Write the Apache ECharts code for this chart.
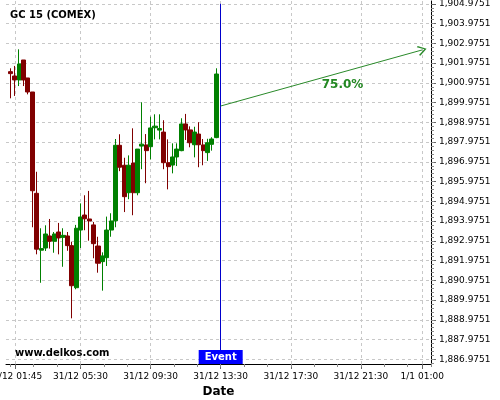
<!DOCTYPE html>
<html>
<head>
<meta charset="utf-8">
<script src="https://cdn.jsdelivr.net/npm/echarts@6/dist/echarts.min.js"></script>
<style>html,body{margin:0;padding:0;background:#fff}#c{width:500px;height:400px}</style>
</head>
<body>
<div id="c"></div>
<script>
// ---- data ----
const times = ['01:30','01:45','02:00','02:15','02:30','02:45','03:00','03:15','03:30','03:45',
  '04:00','04:15','04:30','04:45','05:00','05:15','05:30','05:45','06:00','06:15',
  '06:30','06:45','07:00','07:15','07:30','07:45','08:00','08:15','08:30','08:45',
  '09:00','09:15','09:30','09:45','10:00','10:15','10:30','10:45','11:00','11:15',
  '11:30','11:45','12:00','12:15','12:30','12:45','13:00','13:15'];
const opens = [1901.54,1901.32,1901.12,1902.13,1901.22,1900.51,1895.38,1892.50,1892.61,1893.22,
  1892.95,1893.42,1893.15,1893.22,1892.73,1890.60,1893.52,1894.28,1894.08,1893.78,
  1892.71,1891.92,1892.12,1893.52,1893.99,1897.81,1896.80,1895.41,1896.91,1895.41,
  1897.77,1897.83,1897.74,1898.70,1898.58,1898.48,1896.93,1896.81,1897.22,1897.54,
  1898.89,1898.59,1897.84,1898.38,1897.83,1897.44,1897.86,1898.20];
const closes = [1901.44,1901.12,1901.93,1901.12,1900.51,1895.51,1892.55,1892.58,1893.32,1892.95,
  1893.32,1893.12,1893.25,1892.73,1890.70,1893.61,1894.18,1894.09,1893.98,1892.83,
  1891.84,1892.21,1893.52,1893.98,1897.81,1896.70,1895.21,1896.80,1895.41,1897.62,
  1897.87,1897.54,1898.69,1898.78,1898.66,1896.93,1896.73,1897.22,1897.62,1898.89,
  1898.59,1897.94,1898.48,1897.84,1897.54,1897.94,1898.13,1901.42];
const lows = [1900.19,1900.31,1900.81,1900.81,1900.39,1893.66,1892.29,1890.85,1892.46,1892.58,
  1892.37,1892.29,1891.66,1892.47,1889.05,1890.52,1892.61,1893.51,1892.98,1892.09,
  1891.36,1890.45,1891.70,1893.18,1893.66,1896.50,1894.43,1895.08,1894.27,1895.28,
  1896.60,1895.89,1897.10,1898.11,1898.11,1896.60,1895.58,1896.39,1896.76,1897.51,
  1898.08,1897.71,1897.20,1896.70,1896.80,1897.02,1897.54,1898.17];
const highs = [1901.71,1901.83,1902.67,1902.13,1901.22,1900.51,1896.47,1893.61,1893.76,1894.08,
  1893.42,1893.88,1893.61,1893.42,1892.93,1893.78,1894.87,1895.28,1895.50,1893.93,
  1893.18,1892.39,1894.20,1894.37,1898.13,1898.37,1897.18,1897.30,1898.67,1897.62,
  1899.99,1898.38,1899.26,1899.38,1899.38,1899.08,1898.11,1897.91,1897.91,1899.18,
  1899.40,1898.77,1898.75,1898.98,1898.13,1898.14,1898.22,1901.71];
const xTickLabels = ['31/12 01:45','31/12 05:30','31/12 09:30','31/12 13:30','31/12 17:30','31/12 21:30','1/1 01:00'];
const yTickValues = [1886.9751,1887.9751,1888.9751,1889.9751,1890.9751,1891.9751,1892.9751,1893.9751,1894.9751,
  1895.9751,1896.9751,1897.9751,1898.9751,1899.9751,1900.9751,1901.9751,1902.9751,1903.9751,1904.9751];
const xStart = '31/12 01:15', xEnd = '1/1 01:30';
const yMin = 1886.737, yMax = 1905.117;
const eventTime = '31/12 13:30';
const eventLabel = 'Event';
const eventTop = 1904.9751;
const arrowFrom = ['31/12 13:30', 1899.80];
const arrowTo = ['1/1 01:00', 1902.64];
const pctText = '75.0%';
const pctAt = ['31/12 20:27', 1900.88];
const titleText = 'GC 15 (COMEX)';
const siteText = 'www.delkos.com';

// ---- helpers ----
function toMin(s) {
  const p = s.split(' ');
  const day = p.length > 1 ? p[0] : '31/12';
  const hm = p[p.length - 1].split(':');
  const base = day === '31/12' ? 0 : 1440;
  return base + (+hm[0]) * 60 + (+hm[1]);
}
function pad(n){return (n<10?'0':'')+n;}
function fmtX(v) {
  const m = Math.round(v);
  const day = m >= 1440 ? '1/1' : '31/12';
  const mm = m % 1440;
  return day + ' ' + pad(Math.floor(mm/60)) + ':' + pad(mm%60);
}
function fmtY(v) {
  const s = (Math.round(v*10000)/10000).toFixed(4).split('.');
  return s[0].replace(/\B(?=(\d{3})+(?!\d))/g, ',') + '.' + s[1];
}
const xTickVals = xTickLabels.map(toMin);
const xMinorVals = [];
for (let t = toMin('31/12 05:30') - 3*80; t <= toMin(xEnd); t += 80) xMinorVals.push(t);
const yMinorVals = [];
for (let k = 0; k <= 90; k++) { const v = yTickValues[0] + k*0.2 - 0.2; if (v >= yMin && v <= yMax) yMinorVals.push(v); }

const candleData = times.map((t, i) => [toMin(t), opens[i], closes[i], lows[i], highs[i]]);
const FONT = 'DejaVu Sans';
const chevron = 'path://M5,0 L10,8 L9,9.2 L5,2.4 L1,9.2 L0,8 Z';

const chart = echarts.init(document.getElementById('c'), null, {renderer: 'canvas'});
chart.setOption({
  animation: false,
  backgroundColor: '#ffffff',
  textStyle: {fontFamily: FONT},
  title: [
    {text: titleText, left: 10, top: 10, padding: 0, textStyle: {fontFamily: FONT, fontSize: 10, fontWeight: 'bold', color: '#000'}},
    {text: siteText, left: 15, top: 348, padding: 0, textStyle: {fontFamily: FONT, fontSize: 10, fontWeight: 'bold', color: '#000'}}
  ],
  grid: {left: 6, right: 69, top: 1, bottom: 36, containLabel: false, outerBoundsMode: 'none'},
  xAxis: [
    {
      type: 'value', min: toMin(xStart), max: toMin(xEnd),
      name: 'Date', nameLocation: 'middle', nameGap: 19,
      nameTextStyle: {fontFamily: FONT, fontSize: 12, fontWeight: 'bold', color: '#000'},
      axisLine: {show: true, onZero: false, lineStyle: {color: '#000', width: 1}},
      axisTick: {show: true, length: 5, customValues: xTickVals, lineStyle: {color: '#666'}},
      axisLabel: {show: true, customValues: xTickVals, formatter: fmtX, margin: 8,
        fontFamily: FONT, fontSize: 9, color: '#000', hideOverlap: false, showMinLabel: true, showMaxLabel: true},
      splitLine: {show: true, lineStyle: {color: '#c8c8c8', type: [3, 3], width: 1}}
    },
    {
      type: 'value', min: toMin(xStart), max: toMin(xEnd), position: 'bottom',
      axisLine: {show: false}, axisLabel: {show: false}, splitLine: {show: false},
      axisTick: {show: true, length: 3, customValues: xMinorVals, lineStyle: {color: '#888'}}
    }
  ],
  yAxis: [
    {
      type: 'value', position: 'right', min: yMin, max: yMax, scale: true,
      axisLine: {show: true, onZero: false, lineStyle: {color: '#000', width: 1}},
      axisTick: {show: true, length: 5, customValues: yTickValues, lineStyle: {color: '#666'}},
      axisLabel: {show: true, customValues: yTickValues, formatter: fmtY, margin: 8,
        fontFamily: FONT, fontSize: 9, color: '#000', showMinLabel: true, showMaxLabel: true},
      splitLine: {show: true, lineStyle: {color: '#c8c8c8', type: [3, 3], width: 1}}
    },
    {
      type: 'value', position: 'right', min: yMin, max: yMax,
      axisLine: {show: false}, axisLabel: {show: false}, splitLine: {show: false},
      axisTick: {show: true, length: 3, customValues: yMinorVals, lineStyle: {color: '#888'}}
    }
  ],
  series: [
    {
      type: 'candlestick',
      xAxisIndex: 0, yAxisIndex: 0,
      barWidth: 4.6,
      encode: {x: 0, y: [1, 2, 3, 4]},
      data: candleData,
      itemStyle: {color: '#008000', color0: '#800000', borderColor: '#008000', borderColor0: '#800000', borderWidth: 1},
      markLine: {
        silent: true, animation: false,
        data: [
          [{coord: [toMin(eventTime), yMin], symbol: 'none', lineStyle: {color: '#0000cc', width: 1, type: 'solid'}},
           {coord: [toMin(eventTime), eventTop], symbol: 'none'}],
          [{coord: [toMin(arrowFrom[0]), arrowFrom[1]], symbol: 'none', lineStyle: {color: '#2a8a2a', width: 1, type: 'solid'}},
           {coord: [toMin(arrowTo[0]), arrowTo[1]], symbol: chevron, symbolSize: [10, 9]}]
        ],
        label: {show: false}
      },
      markPoint: {
        silent: true, animation: false,
        data: [
          {coord: [toMin(eventTime), yMin], symbol: 'rect', symbolSize: [44, 14], symbolOffset: [0, -7],
           itemStyle: {color: '#0000ff'},
           label: {show: true, position: 'inside', formatter: eventLabel, color: '#fff', fontFamily: FONT, fontSize: 10, fontWeight: 'bold'}},
          {coord: [toMin(pctAt[0]), pctAt[1]], symbol: 'rect', symbolSize: 1, itemStyle: {color: 'rgba(0,0,0,0)'},
           label: {show: true, position: 'inside', formatter: pctText, color: '#228822', fontFamily: FONT, fontSize: 12, fontWeight: 'bold'}}
        ]
      }
    }
  ]
});
</script>
</body>
</html>
